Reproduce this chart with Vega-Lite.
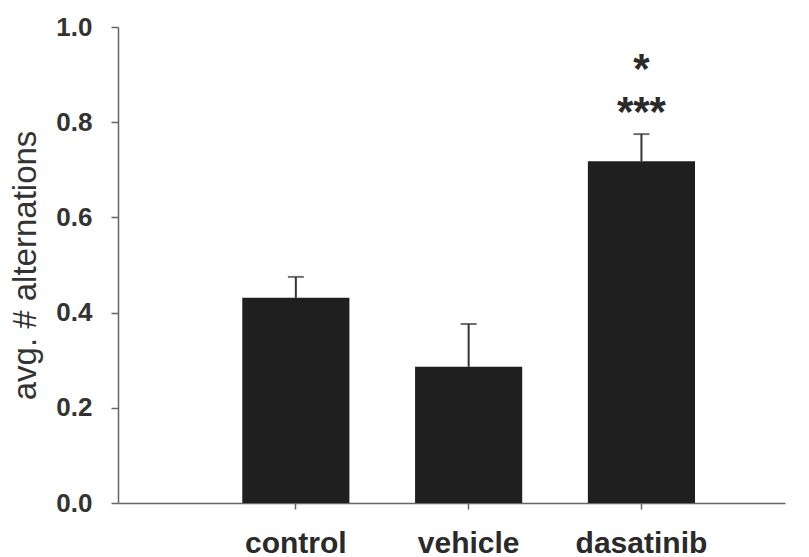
{
  "$schema": "https://vega.github.io/schema/vega-lite/v6.json",
  "width": 667,
  "height": 476,
  "autosize": "none",
  "padding": {"left": 118, "top": 27, "right": 24, "bottom": 54},
  "background": "white",
  "config": {
    "view": {"stroke": null},
    "font": "Liberation Sans"
  },
  "data": {
    "values": [
      {"group": "control", "mean": 0.431, "upper": 0.475, "sig": ""},
      {"group": "vehicle", "mean": 0.286, "upper": 0.376, "sig": ""},
      {"group": "dasatinib", "mean": 0.718, "upper": 0.775, "sig": ["*", "***"]}
    ]
  },
  "encoding": {
    "x": {
      "field": "group",
      "type": "nominal",
      "sort": ["control", "vehicle", "dasatinib"],
      "scale": {"paddingInner": 0.38, "paddingOuter": 0.62, "align": 0.58},
      "axis": {
        "title": null,
        "labelAngle": 0,
        "labelFont": "Liberation Sans",
        "labelFontSize": 30,
        "labelFontWeight": "bold",
        "labelColor": "#2a2a2a",
        "labelPadding": 19,
        "domainColor": "#666666",
        "domainWidth": 1.5,
        "tickColor": "#666666",
        "tickSize": 6,
        "tickWidth": 1.5
      }
    }
  },
  "layer": [
    {
      "mark": {"type": "bar", "color": "#1f1f1f"},
      "encoding": {
        "y": {
          "field": "mean",
          "type": "quantitative",
          "scale": {"domain": [0, 1], "nice": false},
          "axis": {
            "title": "avg. # alternations",
            "titleFont": "Liberation Sans",
            "titleFontSize": 33,
            "titleFontWeight": "normal",
            "titleColor": "#333333",
            "titlePadding": 13,
            "values": [0, 0.2, 0.4, 0.6, 0.8, 1.0],
            "format": ".1f",
            "labelFont": "Liberation Sans",
            "labelFontSize": 26,
            "labelFontWeight": "bold",
            "labelColor": "#333333",
            "labelPadding": 19,
            "grid": false,
            "domainColor": "#666666",
            "domainWidth": 1.5,
            "tickColor": "#666666",
            "tickSize": 7,
            "tickWidth": 1.5
          }
        }
      }
    },
    {
      "mark": {"type": "rule", "color": "#333333", "strokeWidth": 2},
      "encoding": {
        "y": {"field": "mean", "type": "quantitative"},
        "y2": {"field": "upper"}
      }
    },
    {
      "mark": {"type": "tick", "color": "#333333", "size": 16, "thickness": 2},
      "encoding": {
        "y": {"field": "upper", "type": "quantitative"}
      }
    },
    {
      "mark": {"type": "text", "fontSize": 42, "fontWeight": "bold", "color": "#2a2a2a", "baseline": "bottom", "lineHeight": 43, "dy": -42},
      "encoding": {
        "y": {"field": "upper", "type": "quantitative"},
        "text": {"field": "sig"}
      }
    }
  ]
}
